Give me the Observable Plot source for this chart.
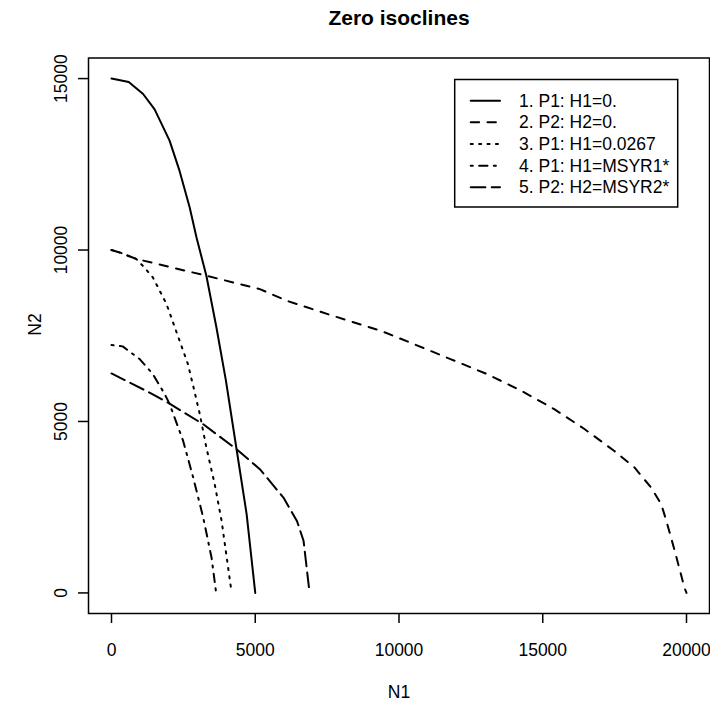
<!DOCTYPE html>
<html><head><meta charset="utf-8">
<script src="https://cdn.jsdelivr.net/npm/d3@7"></script>
<script src="https://cdn.jsdelivr.net/npm/@observablehq/plot@0.6"></script>
<style>body{margin:0;background:#fff;}</style>
</head><body><div id="chart"></div>
<script>
// ---- data ----
const xTicks = [0, 5000, 10000, 15000, 20000];
const yTicks = [0, 5000, 10000, 15000];
const seriesNames = ["1. P1: H1=0.", "2. P2: H2=0.", "3. P1: H1=0.0267", "4. P1: H1=MSYR1*", "5. P2: H2=MSYR2*"];

const iso1N1 = [0, 600, 1100, 1500, 2020, 2370, 2720, 2955, 3300, 3650, 3980, 4350, 4700, 5000];
const iso1N2 = [15000, 14900, 14550, 14100, 13190, 12300, 11240, 10370, 9250, 7740, 6190, 4190, 2300, 0];

const iso2N1 = [0, 280, 860, 3300, 5160, 6100, 7710, 9350, 10510, 11790, 13070, 14240, 15400, 16450, 17490, 18190, 18770, 19120, 19300, 19590, 19930, 20000];
const iso2N2 = [10000, 9930, 9740, 9250, 8860, 8520, 8080, 7650, 7260, 6820, 6380, 5900, 5360, 4780, 4140, 3660, 3070, 2590, 2100, 1230, 150, 0];

const iso3N1 = [0, 280, 860, 1090, 1440, 1910, 2370, 2660, 2840, 3070, 3300, 3590, 3830, 4180];
const iso3N2 = [10000, 9930, 9740, 9540, 9200, 8430, 7350, 6670, 6040, 5220, 4240, 3170, 2100, 0];

const iso4N1 = [0, 390, 980, 1440, 1850, 2020, 2490, 2840, 3190, 3480, 3640];
const iso4N2 = [7230, 7190, 6820, 6380, 5800, 5510, 4440, 3370, 2200, 1030, 0];

const iso5N1 = [0, 740, 1420, 2020, 3190, 4350, 5160, 5980, 6450, 6680, 6890];
const iso5N2 = [6400, 6090, 5800, 5520, 4920, 4190, 3610, 2780, 2100, 1520, 0];

const seriesN1 = [iso1N1, iso2N1, iso3N1, iso4N1, iso5N1];
const seriesN2 = [iso1N2, iso2N2, iso3N2, iso4N2, iso5N2];

// ---- styles ----
const font = "'Liberation Sans', Arial, Helvetica, sans-serif";
const dashes = ["none", "8.4,8.4", "2.1,6.3", "2.1,6.3,8.4,6.3", "14.7,6.3"];

const lineMarks = seriesN1.map((xs, s) => {
  const rows = xs.map((x, i) => ({N1: x, N2: seriesN2[s][i]}));
  return Plot.line(rows, {x: "N1", y: "N2", stroke: "black", strokeWidth: 2,
    strokeDasharray: dashes[s], strokeLinecap: "round", strokeLinejoin: "round"});
});

const plot = Plot.plot({
  width: 710, height: 704,
  marginTop: 57.5, marginBottom: 91, marginLeft: 88, marginRight: 1,
  style: {fontFamily: font, fontSize: "17.5px", color: "black", background: "white"},
  x: {domain: [-800, 20800]},
  y: {domain: [-600, 15600]},
  marks: [
    Plot.axisX({ticks: xTicks, tickSize: 10, tickPadding: 19.75, tickFormat: d => String(d), label: null, fontSize: 17.5, strokeWidth: 1.5}),
    Plot.axisY({ticks: yTicks, tickSize: 10, tickPadding: 11.4, tickRotate: -90, tickFormat: d => String(d), label: null, fontSize: 17.5, strokeWidth: 1.5}),
    ...lineMarks,
    Plot.frame({stroke: "black", strokeWidth: 1.5}),
    Plot.text(["Zero isoclines"], {text: d => d, frameAnchor: "top", dy: -33, lineAnchor: "bottom", fontWeight: "bold", fontSize: 21}),
    Plot.text(["N1"], {text: d => d, frameAnchor: "bottom", dy: 84, lineAnchor: "bottom", fontSize: 17.5}),
    Plot.text(["N2"], {text: d => d, frameAnchor: "left", dx: -47.75, rotate: -90, lineAnchor: "bottom", fontSize: 17.5})
  ]
});

// ---- legend ----
const svg = d3.select(plot);
const lg = svg.append("g").attr("font-family", font).attr("font-size", 17.5).attr("text-anchor", "start");
lg.append("rect").attr("x", 454.7).attr("y", 79.5).attr("width", 223).attr("height", 127.5)
  .attr("fill", "white").attr("stroke", "black").attr("stroke-width", 1.5);
seriesNames.forEach((name, i) => {
  const y = 100.7 + i * 21.65;
  lg.append("line").attr("x1", 470.7).attr("x2", 500).attr("y1", y).attr("y2", y)
    .attr("stroke", "black").attr("stroke-width", 2)
    .attr("stroke-dasharray", dashes[i]).attr("stroke-linecap", "round");
  lg.append("text").attr("x", 519).attr("y", y).attr("dy", "0.35em")
    .attr("text-anchor", "start").attr("fill", "black").text(name);
});

document.getElementById("chart").appendChild(plot);
</script>
</body></html>
